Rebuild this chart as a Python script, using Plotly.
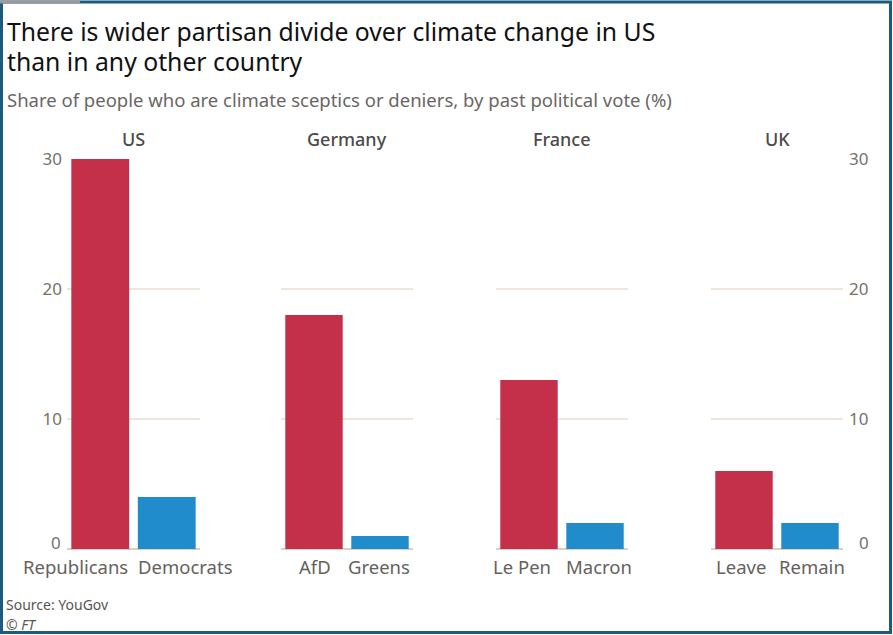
import plotly.graph_objects as go

countries = ["US", "Germany", "France", "UK"]
right_parties = ["Republicans", "AfD", "Le Pen", "Leave"]
left_parties = ["Democrats", "Greens", "Macron", "Remain"]
right_values = [30, 18, 13, 6]
left_values = [4, 1, 2, 2]
y_ticks = [0, 10, 20, 30]
y_ticktext = ["", "10", "20", "30"]

W, H = 893, 635
L, R, T, B = 67, 50, 159, 86
PW = W - L - R
PH = H - T - B
panels_px = [(67, 200), (281, 413), (496, 628), (711, 843)]
# pixel nudges of category labels (right-party label, left-party label)
label_nudge = [(-25, 19), (1, -1), (-7, 4), (-3, 2)]

RED = "#c4304a"
BLUE = "#208ccb"
GRID = "#eee6d8"
BASE = "#d8d0c4"
FONT = "Noto Sans"
LABEL_COLOR = "#66615d"
TICK_COLOR = "#77716c"

def px2x(px):
    return (px - L) / PW

def py2y(py):
    return (H - B - py) / PH

fig = go.Figure()
for i, c in enumerate(countries):
    idx = "" if i == 0 else str(i + 1)
    cats = [right_parties[i], left_parties[i]]
    fig.add_trace(go.Bar(
        x=cats,
        y=[right_values[i], left_values[i]],
        marker=dict(color=[RED, BLUE], line=dict(width=0)),
        xaxis="x" + idx, yaxis="y" + idx, showlegend=False,
    ))
    x0, x1 = panels_px[i]
    fig.layout["xaxis" + idx] = dict(
        domain=[px2x(x0), px2x(x1)], anchor="y" + idx, type="category",
        range=[-0.5, 1.5],
        showgrid=False, showline=False, ticks="", showticklabels=False,
        fixedrange=True,
    )
    ya = dict(
        domain=[0, 1], anchor="x" + idx, range=[0, 30],
        tickvals=y_ticks, ticktext=y_ticktext,
        showgrid=True, gridcolor=GRID, gridwidth=1.5,
        zeroline=True, zerolinecolor=BASE, zerolinewidth=2,
        showline=False, ticks="",
        tickfont=dict(family=FONT, size=17, color=TICK_COLOR),
        fixedrange=True,
    )
    if i == 0:
        ya.update(showticklabels=True, side="left", ticklabelstandoff=4)
    elif i == 3:
        ya.update(showticklabels=True, side="right", ticklabelstandoff=5)
    else:
        ya.update(showticklabels=False)
    fig.layout["yaxis" + idx] = ya
    fig.add_annotation(
        x=px2x((x0 + x1) / 2), y=py2y(139), xref="paper", yref="paper",
        text=c, showarrow=False, xanchor="center", yanchor="middle",
        font=dict(family=FONT, size=18, color="#4e4a47", weight=500),
    )
    for j, cat in enumerate(cats):
        fig.add_annotation(
            x=cat, xref="x" + idx, y=py2y(566), yref="paper", text=cat,
            showarrow=False, xanchor="center", yanchor="middle",
            xshift=label_nudge[i][j],
            font=dict(family=FONT, size=18.5, color=LABEL_COLOR),
        )

# zero labels, raised slightly above the baseline as in the original
fig.add_annotation(x=0, xref="x domain", y=0, yref="y", text=str(y_ticks[0]),
                   showarrow=False, xanchor="right", yanchor="middle",
                   xshift=-4, yshift=7,
                   font=dict(family=FONT, size=17, color=TICK_COLOR))
fig.add_annotation(x=1, xref="x4 domain", y=0, yref="y4", text=str(y_ticks[0]),
                   showarrow=False, xanchor="left", yanchor="middle",
                   xshift=14, yshift=7,
                   font=dict(family=FONT, size=17, color=TICK_COLOR))

def text(x, y, s, size, color, italic=False):
    fig.add_annotation(
        x=px2x(x), y=py2y(y), xref="paper", yref="paper", text=s,
        showarrow=False, xanchor="left", yanchor="middle", align="left",
        font=dict(family=FONT, size=size, color=color,
                  style="italic" if italic else "normal"),
    )

text(5, 31, "There is wider partisan divide over climate change in US", 24.75, "#111111")
text(5, 61, "than in any other country", 24.75, "#111111")
text(5, 99, "Share of people who are climate sceptics or deniers, by past political vote (%)", 18.5, "#6b6664")
text(4, 604, "Source: YouGov", 14, "#5a5551")
text(4, 624, "© FT", 14, "#5a5551", italic=True)

fig.add_shape(type="rect", xref="paper", yref="paper",
              x0=px2x(1.5), x1=px2x(890.5), y0=py2y(2), y1=py2y(632.5),
              line=dict(color="#1b5b7d", width=3), fillcolor="rgba(0,0,0,0)")
fig.add_shape(type="line", xref="paper", yref="paper",
              x0=px2x(0), x1=px2x(80), y0=py2y(2), y1=py2y(2),
              line=dict(color="#9a9a9a", width=3))

fig.update_layout(
    width=W, height=H, margin=dict(l=L, r=R, t=T, b=B),
    paper_bgcolor="white", plot_bgcolor="white",
    bargap=0.13, font=dict(family=FONT),
)

fig.write_html("out.html")
